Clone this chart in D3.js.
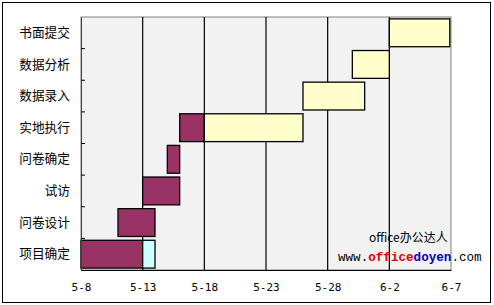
<!DOCTYPE html>
<html>
<head>
<meta charset="utf-8">
<script src="https://cdn.jsdelivr.net/npm/d3@7"></script>
<style>
  body { margin: 0; background: #fff; }
  svg { display: block; }
</style>
</head>
<body>
<div id="chart"></div>
<script>
// tasks, top to bottom
var tasks = ['书面提交', '数据分析', '数据录入', '实地执行', '问卷确定', '试访', '问卷设计', '项目确定'];
// days after 5-8
var startDay = [25, 22, 18, 8, 7, 5, 3, 0];
var doneDays = [0, 0, 0, 2, 1, 3, 3, 5];
var leftDays = [4.9, 3, 5, 8, 0, 0, 0, 0];
var extraDays = [0, 0, 0, 0, 0, 0, 0, 1];
var tickLabels = ['5-8', '5-13', '5-18', '5-23', '5-28', '6-2', '6-7'];
var tickDays = [0, 5, 10, 15, 20, 25, 30];

var W = 494, H = 305;
var svg = d3.select('#chart').append('svg').attr('width', W).attr('height', H);

// outer frame
svg.append('rect').attr('x', 2.5).attr('y', 2.5).attr('width', 488).attr('height', 300)
   .attr('fill', '#fff').attr('stroke', '#000').attr('stroke-width', 1);

var x = d3.scaleLinear().domain([0, 30]).range([81, 451]);
var y = d3.scaleBand().domain(tasks).range([17, 270]).paddingInner(0.12).paddingOuter(0.06);
var yb = d3.scaleBand().domain(tasks).range([17, 270]);

// plot area
svg.append('rect').attr('x', 81).attr('y', 17).attr('width', 370).attr('height', 253)
   .attr('fill', '#f2f2f2').attr('stroke', '#808080');

// gridlines
svg.selectAll('.grid').data(tickDays.slice(1, -1)).enter().append('line')
   .attr('x1', function(d){ return x(d); }).attr('x2', function(d){ return x(d); })
   .attr('y1', 17).attr('y2', 270)
   .attr('stroke', '#000').attr('stroke-width', 1.2);

// bars: done (purple), remaining (yellow), extra (cyan)
var segs = [];
tasks.forEach(function(t, i){
    var s = startDay[i];
    if (doneDays[i]) segs.push({task: t, a: s, b: s + doneDays[i], fill: '#993366'});
    s += doneDays[i];
    if (leftDays[i]) segs.push({task: t, a: s, b: s + leftDays[i], fill: '#ffffcc'});
    s += leftDays[i];
    if (extraDays[i]) segs.push({task: t, a: s, b: s + extraDays[i], fill: '#ccffff'});
});

svg.selectAll('.bar').data(segs).enter().append('rect')
   .attr('x', function(d){ return x(d.a); })
   .attr('width', function(d){ return x(d.b) - x(d.a); })
   .attr('y', function(d){ return y(d.task); })
   .attr('height', y.bandwidth())
   .attr('fill', function(d){ return d.fill; })
   .attr('stroke', '#000').attr('stroke-width', 1.3);

// axes
var yAxis = d3.axisLeft(yb).tickSize(0).tickPadding(11);
var gy = svg.append('g').attr('transform', 'translate(81,0)').call(yAxis);
gy.select('.domain').attr('stroke', '#404040');
gy.selectAll('text').attr('font-family', '"Noto Sans CJK SC", sans-serif').attr('font-size', 12.7).attr('fill', '#000');

// small ticks at band boundaries
svg.selectAll('.ytick').data(tasks.slice(1)).enter().append('line')
   .attr('x1', 81).attr('x2', 85)
   .attr('y1', function(d){ return yb(d); }).attr('y2', function(d){ return yb(d); })
   .attr('stroke', '#000');

var xAxis = d3.axisBottom(x).tickValues(tickDays).tickSize(0).tickPadding(13)
   .tickFormat(function(d, i){ return tickLabels[i]; });
var gx = svg.append('g').attr('transform', 'translate(0,270)').call(xAxis);
gx.select('.domain').attr('stroke', '#000').attr('stroke-width', 1.2);
gx.selectAll('text').attr('font-family', '"DejaVu Sans Mono", monospace').attr('font-size', 11).attr('fill', '#000');

// watermark
svg.append('text').attr('x', 369).attr('y', 242)
   .attr('font-family', '"Noto Sans CJK SC", sans-serif').attr('font-size', 12)
   .text('office办公达人');

var wm = svg.append('text').attr('x', 338).attr('y', 261)
   .attr('font-family', '"Liberation Mono", monospace').attr('font-size', 12.6);
wm.append('tspan').text('www.');
wm.append('tspan').attr('fill', '#e00000').attr('font-weight', 'bold').text('office');
wm.append('tspan').attr('fill', '#0000cc').attr('font-weight', 'bold').text('doyen');
wm.append('tspan').text('.com');
</script>
</body>
</html>
